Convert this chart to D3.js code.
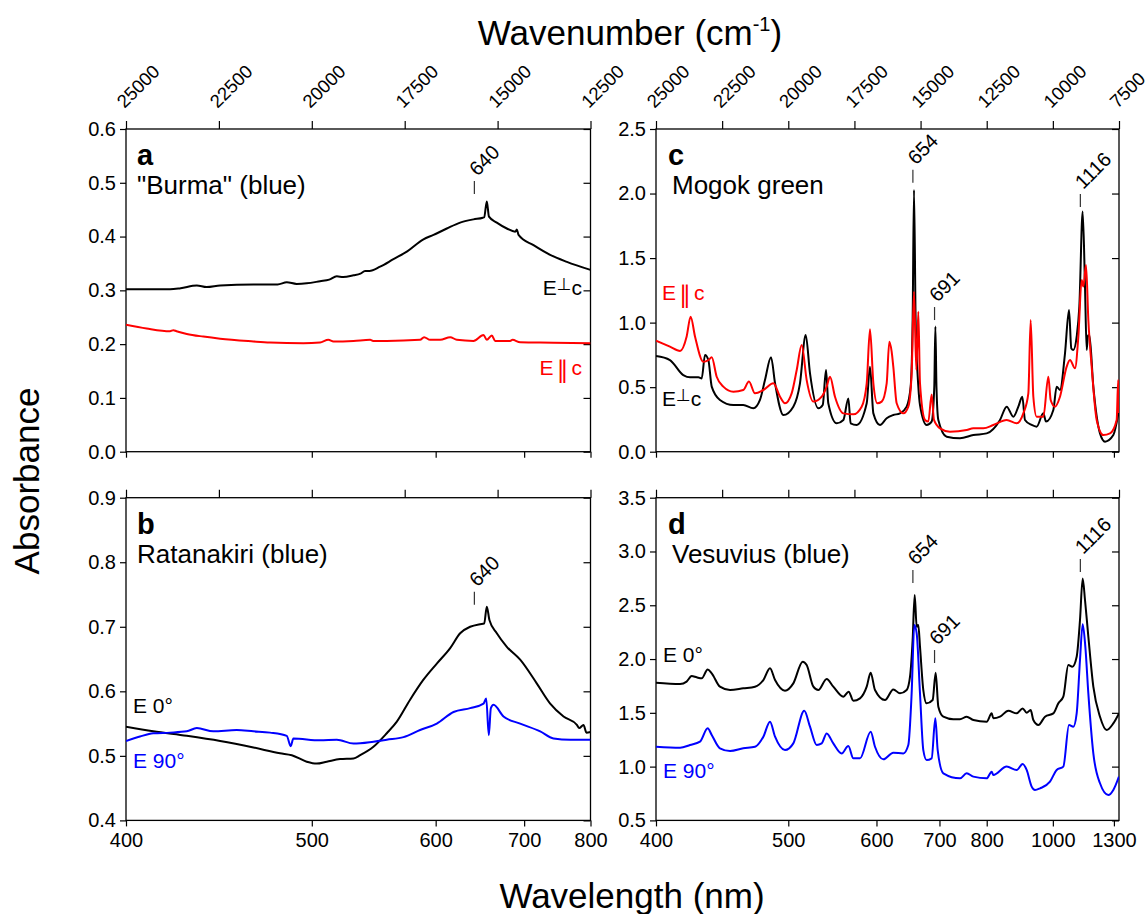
<!DOCTYPE html>
<html>
<head>
<meta charset="utf-8">
<script src="https://cdn.jsdelivr.net/npm/d3@7"></script>
<style>
  body { margin: 0; background: #fff; }
  svg { font-family: "Liberation Sans", Arial, "DejaVu Sans", sans-serif; }
  .axis text { font-size: 20px; fill: #000; }
  .axis line { stroke: #000; stroke-width: 1.2; }
  .axis .domain { display: none; }
  .top text { font-size: 18.5px; }
</style>
</head>
<body>
<svg id="chart" width="1145" height="914"></svg>
<script>
// ---------- data (wavelength in nm, absorbance) ----------
var nmTicksLeft = [400, 500, 600, 700, 800],
    nmTicksRight = [400, 500, 600, 700, 800, 1000, 1300],
    wnTicksLeft = [25000, 22500, 20000, 17500, 15000, 12500],
    wnTicksRight = [25000, 22500, 20000, 17500, 15000, 12500, 10000, 7500];

var yTicksA = [0, 0.1, 0.2, 0.3, 0.4, 0.5, 0.6],
    yTicksB = [0.4, 0.5, 0.6, 0.7, 0.8, 0.9],
    yTicksC = [0, 0.5, 1.0, 1.5, 2.0, 2.5],
    yTicksD = [0.5, 1.0, 1.5, 2.0, 2.5, 3.0, 3.5];

// a: "Burma" (blue)
var burmaPerp = [[400,0.302],[412.1,0.302],[419.9,0.302],[425,0.304],[433,0.309],[438,0.306],[445.1,0.309],
  [463.6,0.311],[478,0.311],[483.7,0.315],[490,0.312],[496.6,0.313],[505.6,0.317],[512,0.320],[517.4,0.326],
  [522,0.325],[529.7,0.328],[535,0.331],[538.6,0.336],[542,0.336],[550.6,0.344],[561.7,0.358],[573.3,0.372],
  [588.4,0.395],[597.9,0.403],[611.0,0.415],[624.7,0.426],[639.0,0.432],[649.4,0.435],[651,0.436],[654.0,0.465],
  [656.5,0.437],[665.7,0.426],[677.9,0.415],[688.4,0.409],[690.5,0.413],[692.7,0.403],[712.6,0.384],
  [736.1,0.366],[761.3,0.353],[800,0.338]];
var burmaPara = [[400,0.236],[409.1,0.229],[419.9,0.224],[421.5,0.226],[423,0.224],[428.0,0.219],[436.3,0.214],
  [445.1,0.210],[463.6,0.205],[473.4,0.203],[494.4,0.2015],[505.6,0.203],[511.4,0.208],[515.0,0.205],
  [529.7,0.206],[542.6,0.208],[545,0.206],[556.1,0.206],[585.3,0.208],[589.0,0.213],[594.7,0.208],
  [604.4,0.208],[614.4,0.213],[621.2,0.208],[639.0,0.206],[650.2,0.217],[654.0,0.208],[659.8,0.216],
  [663.7,0.206],[682.0,0.206],[685,0.208],[694.8,0.2034],[741.0,0.2027],[800,0.2015]];

// b: Ratanakiri (blue)
var ratE0 = [[400,0.545],[412.1,0.538],[428.0,0.531],[445.1,0.523],[463.6,0.513],[479.5,0.504],[486.9,0.501],
  [496.6,0.491],[503.3,0.488],[510.3,0.491],[519.8,0.495],[529.7,0.496],[534.8,0.501],[545.2,0.514],
  [556.1,0.535],[564.6,0.553],[576.2,0.587],[588.4,0.618],[601.1,0.643],[614.4,0.667],[624.7,0.690],
  [635.4,0.700],[646.4,0.704],[651.0,0.705],[654.0,0.731],[657.1,0.710],[665.7,0.690],[677.9,0.669],
  [694.8,0.649],[717.2,0.612],[736.1,0.581],[756.1,0.561],[777.2,0.548],[781,0.543],[788.2,0.548],
  [793,0.536],[800,0.537]];
var ratE90 = [[400,0.523],[406.1,0.530],[412.1,0.535],[419.9,0.536],[428.0,0.538],[433.0,0.543],[441.5,0.538],
  [454.1,0.540],[463.6,0.538],[473.4,0.536],[483.7,0.531],[486.2,0.515],[487.9,0.527],[505.6,0.524],
  [517.4,0.525],[529.7,0.519],[545.2,0.522],[556.1,0.525],[570.4,0.529],[585.3,0.540],[601.1,0.550],
  [617.8,0.568],[635.4,0.574],[650.2,0.581],[653.3,0.589],[656.3,0.532],[658.7,0.574],[661.8,0.579],
  [673.8,0.561],[694.8,0.550],[721.8,0.538],[741.0,0.527],[766.5,0.525],[800,0.525]];

// c: Mogok green
var mogokPerp = [[400,0.741],[408.6,0.710],[417.2,0.594],[421.7,0.576],[427.4,0.576],[429.7,0.568],[432.0,0.749],
  [434.4,0.710],[436.8,0.504],[442.8,0.401],[453.0,0.362],[460.8,0.362],[469.0,0.336],[474.6,0.401],
  [478.9,0.555],[484.2,0.731],[487.8,0.530],[495.4,0.284],[504.8,0.349],[511.3,0.530],[517.0,0.904],
  [521.4,0.607],[530.1,0.336],[534.8,0.362],[538.4,0.633],[540.9,0.375],[550.3,0.220],[558.1,0.246],
  [564.0,0.413],[566.8,0.220],[574.2,0.207],[587.0,0.375],[591.3,0.659],[595.8,0.297],[604.8,0.207],
  [614.2,0.259],[623.8,0.284],[633.8,0.297],[644.1,0.349],[650.4,0.504],[653.6,1.020],[655.8,2.027],
  [658.5,1.020],[663,0.500],[665.7,0.362],[677.0,0.207],[685.8,0.233],[690.5,0.500],[692.5,0.969],
  [694.5,0.500],[697.9,0.246],[713.6,0.116],[740.2,0.104],[768.9,0.129],[799.9,0.142],[833.5,0.246],
  [851.4,0.349],[870.0,0.271],[884.6,0.349],[896.5,0.426],[904.7,0.246],[925.8,0.207],[942.3,0.194],
  [965.3,0.297],[974.8,0.233],[1001.8,0.323],[1014.6,0.504],[1027.7,0.478],[1048.1,0.762],[1065.0,1.098],
  [1075,0.800],[1083.9,0.788],[1098.9,0.891],[1111.2,1.124],[1127.0,1.860],[1138.3,1.279],[1146.5,0.788],
  [1153,0.900],[1160.0,0.904],[1180.6,0.504],[1216.8,0.142],[1245.5,0.078],[1296.3,0.129],[1333,0.323]];
var mogokPara = [[400,0.860],[408.6,0.814],[415.1,0.780],[419.4,0.891],[422.1,1.046],[425.1,0.891],[430.8,0.697],
  [434.4,0.710],[436.8,0.731],[440.4,0.581],[445.3,0.504],[453.0,0.465],[460.8,0.478],[465.4,0.543],
  [470.4,0.452],[477.5,0.478],[486.3,0.530],[492.3,0.426],[496.9,0.375],[503.2,0.452],[508.1,0.633],
  [513.0,0.827],[518.0,0.555],[524.9,0.388],[533.7,0.426],[539.1,0.504],[542.8,0.581],[548.4,0.426],
  [558.1,0.297],[570.1,0.290],[580.5,0.349],[587.0,0.530],[591.3,0.948],[595.8,0.530],[601.2,0.375],
  [607.2,0.388],[614.2,0.530],[618.0,0.852],[621.4,0.775],[623.8,0.659],[628.8,0.375],[638.9,0.297],
  [646.7,0.349],[652.0,0.607],[655.8,1.240],[659.6,0.633],[662.9,1.085],[665.7,0.530],[674.2,0.246],
  [679.9,0.233],[685.8,0.444],[690.0,0.246],[701.0,0.181],[720.0,0.155],[754.3,0.168],[768.9,0.181],
  [791.9,0.181],[816.3,0.207],[851.4,0.246],[879.7,0.220],[899.6,0.297],[915.2,0.452],[922.6,1.020],
  [931.3,0.426],[942.3,0.271],[965.3,0.271],[983.2,0.581],[991.8,0.401],[1008.2,0.349],[1027.7,0.426],
  [1055.1,0.659],[1069.3,0.710],[1091.3,0.646],[1106.6,0.891],[1122.2,1.330],[1130.2,1.279],[1143.3,1.446],
  [1154.9,1.020],[1171.9,0.659],[1198.5,0.246],[1235.8,0.129],[1275.5,0.142],[1317.9,0.246],[1328,0.555],
  [1333,0.300]];

// d: Vesuvius (blue)
var vesE0 = [[400,1.780],[415.1,1.768],[419.4,1.790],[422.8,1.842],[426.2,1.830],[429.7,1.821],[433.9,1.904],
  [436.8,1.867],[442.8,1.743],[450.4,1.712],[460.8,1.728],[470.4,1.743],[477.5,1.805],[483.3,1.914],
  [487.8,1.805],[496.9,1.706],[504.8,1.774],[514.0,1.976],[518.0,1.945],[524.9,1.743],[530.1,1.712],
  [539.1,1.814],[546.5,1.743],[558.1,1.650],[564.4,1.697],[570.1,1.613],[578.4,1.635],[587.0,1.743],
  [592.2,1.873],[598.0,1.712],[611.8,1.619],[623.8,1.718],[633.8,1.681],[644.1,1.712],[649.4,1.836],
  [653.6,2.177],[656.9,2.595],[660.2,2.301],[662.9,2.316],[665.7,2.115],[671.3,1.712],[677.0,1.588],
  [687.6,1.619],[693.0,1.873],[697.9,1.557],[707.2,1.464],[726.6,1.440],[740.2,1.440],[754.3,1.464],
  [768.9,1.433],[799.9,1.418],[812.2,1.495],[816.3,1.449],[833.5,1.464],[855.9,1.520],[879.7,1.495],
  [897.6,1.541],[909.9,1.501],[922.6,1.526],[931.3,1.433],[948.0,1.387],[971.2,1.464],[1001.8,1.495],
  [1021.1,1.588],[1041.2,1.650],[1062.1,1.945],[1079.5,1.929],[1098.9,2.022],[1114.3,2.363],[1127.0,2.750],
  [1138.3,2.549],[1154.9,2.208],[1180.6,1.743],[1216.8,1.464],[1255.3,1.340],[1296.3,1.402],[1333,1.495]];
var vesE90 = [[400,1.185],[415.1,1.176],[421.7,1.201],[428.5,1.232],[433.9,1.356],[436.8,1.294],[442.8,1.170],
  [450.4,1.145],[460.8,1.170],[470.4,1.185],[477.5,1.278],[483.3,1.418],[487.8,1.278],[496.9,1.154],
  [504.8,1.216],[515.6,1.520],[521.4,1.371],[528.3,1.201],[533.7,1.216],[539.1,1.309],[546.5,1.216],
  [556.1,1.123],[564.0,1.192],[570.1,1.077],[578.4,1.077],[592.2,1.325],[598.0,1.185],[609.5,1.068],
  [623.8,1.130],[638.9,1.123],[646.7,1.201],[652.0,1.681],[656.3,2.316],[660.2,2.239],[665.7,1.681],
  [671.3,1.154],[677.0,1.061],[685.8,1.077],[692.4,1.449],[696.7,1.154],[707.2,0.938],[740.2,0.891],
  [754.3,0.938],[768.9,0.907],[799.9,0.891],[812.2,0.953],[816.3,0.922],[851.4,1.000],[879.7,0.969],
  [897.6,1.024],[909.9,0.969],[925.8,0.814],[936.8,0.783],[953.7,0.798],[989.3,0.860],[1014.6,0.969],
  [1041.2,1.000],[1065.0,1.387],[1083.9,1.371],[1098.9,1.495],[1114.3,1.991],[1127.0,2.323],[1139.9,2.115],
  [1154.9,1.681],[1180.6,1.123],[1216.8,0.845],[1265.3,0.736],[1296.3,0.783],[1333,0.907]];

// peak markers: [label, wavelength nm, absorbance at marker foot]
var peaksA = [["640", 640, 0.479]],
    peaksB = [["640", 640, 0.734]],
    peaksC = [["654", 654, 2.084], ["691", 691, 1.020], ["1116", 1116, 1.896]],
    peaksD = [["654", 654, 2.707], ["691", 691, 1.963], ["1116", 1116, 2.809]];

// ---------- layout ----------
var svg = d3.select("#chart");
var RED = "#ff0000", BLUE = "#0000ff", BLACK = "#000000";

var colLeft = { x0: 126, x1: 590.5, wn: [25000, 12500], nmTicks: nmTicksLeft, wnTicks: wnTicksLeft },
    colRight = { x0: 656, x1: 1119, wn: [25000, 7500], nmTicks: nmTicksRight, wnTicks: wnTicksRight },
    rowTop = { y0: 129, y1: 451.7 },
    rowBot = { y0: 497.7, y1: 820.4 };

var panels = [
  { id: "a", col: colLeft, row: rowTop, yDom: [0, 0.6], yTicks: yTicksA, title: '"Burma" (blue)',
    series: [[burmaPerp, BLACK], [burmaPara, RED]], peaks: peaksA },
  { id: "b", col: colLeft, row: rowBot, yDom: [0.4, 0.9], yTicks: yTicksB, title: "Ratanakiri (blue)",
    series: [[ratE0, BLACK], [ratE90, BLUE]], peaks: peaksB },
  { id: "c", col: colRight, row: rowTop, yDom: [0, 2.5], yTicks: yTicksC, title: "Mogok green",
    series: [[mogokPerp, BLACK], [mogokPara, RED]], peaks: peaksC },
  { id: "d", col: colRight, row: rowBot, yDom: [0.5, 3.5], yTicks: yTicksD, title: "Vesuvius (blue)",
    series: [[vesE0, BLACK], [vesE90, BLUE]], peaks: peaksD }
];

function drawPanel(p) {
  var c = p.col, r = p.row;
  var x = d3.scaleLinear().domain(c.wn).range([c.x0, c.x1]);
  var y = d3.scaleLinear().domain(p.yDom).range([r.y1, r.y0]);
  var g = svg.append("g").attr("class", "panel-" + p.id);

  g.append("clipPath").attr("id", "clip-" + p.id)
    .append("rect").attr("x", c.x0).attr("y", r.y0)
    .attr("width", c.x1 - c.x0).attr("height", r.y1 - r.y0);

  // left axis (outward ticks, labels)
  g.append("g").attr("class", "axis").attr("transform", "translate(" + c.x0 + ",0)")
    .call(d3.axisLeft(y).tickValues(p.yTicks).tickSize(6).tickPadding(4).tickFormat(d3.format(".1f")));
  // right axis (inward ticks)
  g.append("g").attr("class", "axis").attr("transform", "translate(" + c.x1 + ",0)")
    .call(d3.axisRight(y).tickValues(p.yTicks).tickSize(-7).tickFormat(""));

  // top axis in wavenumber
  var top = g.append("g").attr("class", "axis top").attr("transform", "translate(0," + r.y0 + ")")
    .call(d3.axisTop(x).tickValues(c.wnTicks).tickSize(8)
      .tickFormat(r === rowTop ? d3.format("d") : ""));
  top.selectAll("text")
    .attr("x", 0).attr("y", 0).attr("dy", 0)
    .attr("text-anchor", "start")
    .attr("transform", "translate(-2,-20) rotate(-45)");

  // bottom axis in wavelength
  g.append("g").attr("class", "axis").attr("transform", "translate(0," + r.y1 + ")")
    .call(d3.axisBottom(x).tickValues(c.nmTicks.map(function(n) { return 1e7 / n; }))
      .tickSize(6).tickPadding(6)
      .tickFormat(r === rowBot ? function(w) { return Math.round(1e7 / w); } : ""));

  // frame
  g.append("rect").attr("x", c.x0).attr("y", r.y0)
    .attr("width", c.x1 - c.x0).attr("height", r.y1 - r.y0)
    .attr("fill", "none").attr("stroke", "#000").attr("stroke-width", 1.3);

  var line = d3.line()
    .x(function(d) { return x(1e7 / d[0]); })
    .y(function(d) { return y(d[1]); })
    .curve(d3.curveMonotoneX);

  var plot = g.append("g").attr("clip-path", "url(#clip-" + p.id + ")");
  p.series.forEach(function(s) {
    plot.append("path").datum(s[0])
      .attr("d", line)
      .attr("fill", "none")
      .attr("stroke", s[1])
      .attr("stroke-width", 2)
      .attr("stroke-linejoin", "round");
  });

  // peak markers
  p.peaks.forEach(function(pk) {
    var px = x(1e7 / pk[1]), py = y(pk[2]);
    g.append("line").attr("x1", px).attr("x2", px).attr("y1", py).attr("y2", py - 13)
      .attr("stroke", "#333").attr("stroke-width", 1.2);
    g.append("text").attr("transform", "translate(" + (px + 3) + "," + (py - 17) + ") rotate(-45)")
      .attr("font-size", 20).text(pk[0]);
  });

  // panel letter + title
  g.append("text").attr("x", c.x0 + (c === colLeft ? 11 : 12)).attr("y", r.y0 + 36)
    .attr("font-size", 29).attr("font-weight", "bold").text(p.id);
  g.append("text").attr("x", c.x0 + (c === colLeft ? 11 : 16)).attr("y", r.y0 + 65)
    .attr("font-size", 26).text(p.title);

  return { x: x, y: y, g: g };
}

var drawn = panels.map(drawPanel);

// series labels
function seriesLabel(g, x, y, anchor, color, parts) {
  var t = g.append("text").attr("x", x).attr("y", y).attr("text-anchor", anchor)
    .attr("fill", color).attr("font-size", 21);
  parts.forEach(function(pt) {
    var s = t.append("tspan").text(pt.t);
    if (pt.size) s.attr("font-size", pt.size).attr("font-family", "DejaVu Sans");
    if (pt.dy) s.attr("dy", pt.dy);
    if (pt.dx) s.attr("dx", pt.dx);
  });
}
var perpParts = [{ t: "E" }, { t: "\u22A5", size: 17, dy: -5 }, { t: "c", dy: 5 }];
var paraParts = [{ t: "E" }, { t: "\u2225", size: 24, dy: 3, dx: 3 }, { t: "c", dy: -3, dx: 3 }];

seriesLabel(drawn[0].g, 582, 295, "end", BLACK, perpParts);
seriesLabel(drawn[0].g, 582, 375, "end", RED, paraParts);
seriesLabel(drawn[1].g, 133, 713, "start", BLACK, [{ t: "E 0\u00B0" }]);
seriesLabel(drawn[1].g, 133, 768, "start", BLUE, [{ t: "E 90\u00B0" }]);
seriesLabel(drawn[2].g, 662, 300, "start", RED, paraParts);
seriesLabel(drawn[2].g, 662, 406, "start", BLACK, perpParts);
seriesLabel(drawn[3].g, 663, 662, "start", BLACK, [{ t: "E 0\u00B0" }]);
seriesLabel(drawn[3].g, 663, 778, "start", BLUE, [{ t: "E 90\u00B0" }]);

// axis titles
var wt = svg.append("text").attr("x", 630).attr("y", 45).attr("text-anchor", "middle").attr("font-size", 35);
wt.append("tspan").text("Wavenumber (cm");
wt.append("tspan").attr("font-size", 20).attr("dy", -14).text("-1");
wt.append("tspan").attr("dy", 14).text(")");

svg.append("text").attr("x", 632).attr("y", 908).attr("text-anchor", "middle")
  .attr("font-size", 35).text("Wavelength (nm)");

svg.append("text").attr("transform", "translate(39,481) rotate(-90)").attr("text-anchor", "middle")
  .attr("font-size", 35).text("Absorbance");
</script>
</body>
</html>
